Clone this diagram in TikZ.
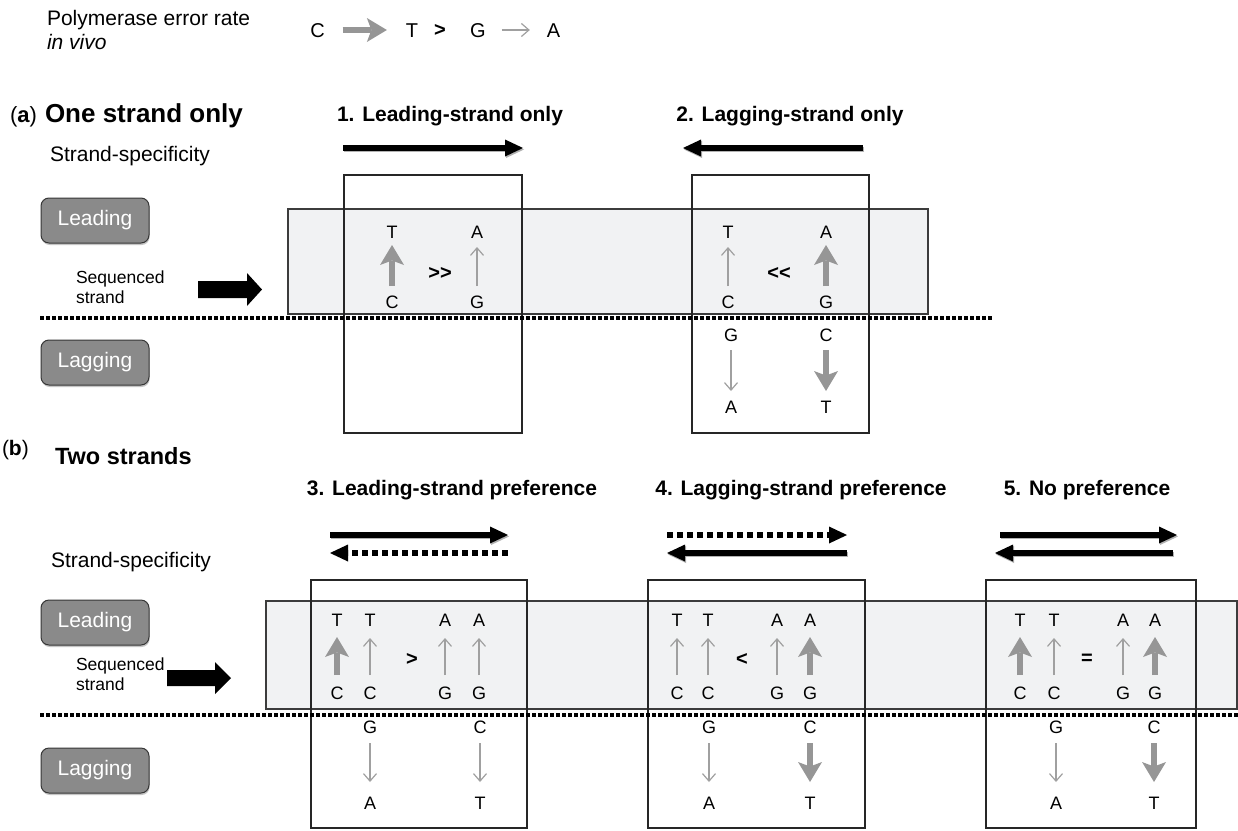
\documentclass[tikz,border=0pt]{standalone}
\usepackage{fontspec}
\setmainfont{Liberation Sans}
\usetikzlibrary{arrows.meta,shadows}
\definecolor{agray}{RGB}{150,150,150}
\definecolor{tgray}{RGB}{160,160,160}
\definecolor{bandfill}{RGB}{241,242,243}
\definecolor{bandline}{RGB}{60,60,60}
\definecolor{keyfill}{RGB}{138,138,138}
\definecolor{keyline}{RGB}{55,55,55}
\tikzset{
  txt/.style={inner sep=0pt, outer sep=0pt},
  let/.style={txt, font=\fontsize{18}{18}\selectfont, text height=13pt, text depth=0pt},
  biglet/.style={txt, font=\fontsize{20}{20}\selectfont, text height=14.3pt, text depth=0pt},
  sym/.style={txt, font=\fontsize{20}{20}\selectfont\bfseries},
  head/.style={txt, font=\fontsize{21}{21}\selectfont\bfseries},
  plain/.style={txt, font=\fontsize{21}{24}\selectfont},
  fat/.style={draw=agray, line width=5.8pt, -{Stealth[length=20pt,width=24pt,inset=4.5pt,line width=0pt]}},
  slim/.style={draw=tgray, line width=1.2pt, -{Straight Barb[length=7.5pt,width=13pt]}},
  blk/.style={draw=black, line width=5.5pt, -{Triangle[length=18pt,width=17pt,line width=0pt]}},
  dotblk/.style={blk, dash pattern=on 6pt off 4pt},
  shad/.style={draw=black!30, line width=5.5pt, -{Triangle[length=18pt,width=17pt,line width=0pt]}, transform canvas={shift={(1pt,-1.5pt)}}},
  sep/.style={draw=black, line width=3.5pt, dash pattern=on 3.5pt off 2.5pt},
  band/.style={fill=bandfill, draw=bandline, line width=1.1pt},
  frame/.style={draw=black!85, line width=1.3pt},
  key/.style={draw=keyline, fill=keyfill, rounded corners=8pt, line width=1pt,
    minimum width=108pt, minimum height=45pt, text=white, inner sep=0pt,
    font=\fontsize{21}{21}\selectfont,
    drop shadow={shadow xshift=0.6pt, shadow yshift=-2pt, fill=black!45, opacity=0.5}},
  seqtxt/.style={txt, font=\fontsize{17.5}{20}\selectfont, align=left},
  upA/.style={shorten <=9.5pt, shorten >=6.5pt},
  upAs/.style={shorten <=9.5pt, shorten >=8.5pt},
  dnA/.style={shorten <=8.5pt, shorten >=9.5pt},
  upB/.style={shorten <=11.5pt, shorten >=10.5pt},
  upBs/.style={shorten <=11.5pt, shorten >=11.5pt},
  dnB/.style={shorten <=9.5pt, shorten >=14.5pt},
}
\begin{document}
\begin{tikzpicture}[x=1pt,y=-1pt]
\useasboundingbox (0,0) rectangle (1238,830);
\fill[white] (0,0) rectangle (1238,830);

% ---------- legend ----------
\node[plain, anchor=base west] (leg1) at (47,25) {Polymerase error rate};
\node[plain, anchor=base west] (leg2) at (47,49) {\itshape in vivo};
\node[biglet] (lc) at (317.5,30) {C};
\node[biglet] (lt) at (412,30) {T};
\node[sym] (lgt) at (440,30) {>};
\node[biglet] (lg) at (478,30) {G};
\node[biglet] (la) at (553.5,30) {A};
\draw[fat, shorten <=18pt, shorten >=19pt] (lc) -- (lt);
\draw[slim, shorten <=16pt, shorten >=17pt] (lg) -- (la);

% ---------- (a) ----------
\node[txt, anchor=base west, font=\fontsize{22}{22}\selectfont] (alab) at (10,122) {(\textbf{a})};
\node[txt, anchor=base west, font=\fontsize{26}{26}\selectfont\bfseries] (atitle) at (45,122) {One strand only};
\node[plain, anchor=base west] (aspec) at (50,161) {Strand-specificity};
\node[head, anchor=base] (h1) at (450,121) {1. Leading-strand only};
\node[head, anchor=base] (h2) at (790,121) {2. Lagging-strand only};
\coordinate (h1s) at (343,148); \coordinate (h1e) at (523,148);
\coordinate (h2s) at (863,148); \coordinate (h2e) at (683,148);
\draw[shad] (h1s) -- (h1e);
\draw[shad] (h2s) -- (h2e);
\draw[blk] (h1s) -- (h1e);
\draw[blk] (h2s) -- (h2e);

\node[key] (alead) at (95,220.5) {Leading};
\node[key] (alag) at (95,362.5) {Lagging};
\node[seqtxt, anchor=base west] (aseq) at (76,303) {Sequenced\\strand};
\fill (198,281) -- (247,281) -- (247,273) -- (262,289.5) -- (247,306) -- (247,298) -- (198,298) -- cycle;

\path[band] (288,209) rectangle (928,314);
\path[frame] (344,175) rectangle (522,433);
\path[frame] (692,175) rectangle (869,433);
\draw[sep] (40,318) -- (993,318);

% box 1
\node[let] (a1t) at (392,232) {T};
\node[let] (a1c) at (392,302) {C};
\node[let] (a1a) at (477,232) {A};
\node[let] (a1g) at (477,302) {G};
\node[sym] (a1s) at (440,273) {>{}>};
\draw[fat, upA] (a1c) -- (a1t);
\draw[slim, upAs] (a1g) -- (a1a);

% box 2
\node[let] (a2t) at (728,232) {T};
\node[let] (a2c) at (728,302) {C};
\node[let] (a2a) at (826,232) {A};
\node[let] (a2g) at (826,302) {G};
\node[sym] (a2s) at (779,273) {<{}<};
\draw[slim, upAs] (a2c) -- (a2t);
\draw[fat, upA] (a2g) -- (a2a);
\node[let] (a2lg) at (731,335) {G};
\node[let] (a2la) at (731,407) {A};
\node[let] (a2lc) at (826,335) {C};
\node[let] (a2lt) at (826,407) {T};
\draw[slim, dnA] (a2lg) -- (a2la);
\draw[fat, dnA] (a2lc) -- (a2lt);

% ---------- (b) ----------
\node[txt, anchor=base west, font=\fontsize{21}{21}\selectfont] (blab) at (2,455) {(\textbf{b})};
\node[txt, anchor=base west, font=\fontsize{23.5}{23.5}\selectfont\bfseries] (btitle) at (55,464) {Two strands};
\node[plain, anchor=base west] (bspec) at (51,567) {Strand-specificity};
\node[head, anchor=base] (h3) at (452,495) {3. Leading-strand preference};
\node[head, anchor=base] (h4) at (801,495) {4. Lagging-strand preference};
\node[head, anchor=base] (h5) at (1087,495) {5. No preference};

\coordinate (p3a) at (330,535); \coordinate (q3a) at (508,535);
\coordinate (p3b) at (508,553); \coordinate (q3b) at (330,553);
\draw[shad] (p3a) -- (q3a);
\draw[blk] (p3a) -- (q3a);
\draw[dotblk] (p3b) -- (q3b);
\coordinate (p4a) at (667,535); \coordinate (q4a) at (847,535);
\coordinate (p4b) at (847,553); \coordinate (q4b) at (667,553);
\draw[dotblk] (p4a) -- (q4a);
\draw[shad] (p4b) -- (q4b);
\draw[blk] (p4b) -- (q4b);
\coordinate (p5a) at (1000,535); \coordinate (q5a) at (1177,535);
\coordinate (p5b) at (1173,553); \coordinate (q5b) at (995,553);
\draw[shad] (p5a) -- (q5a);
\draw[shad] (p5b) -- (q5b);
\draw[blk] (p5a) -- (q5a);
\draw[blk] (p5b) -- (q5b);

\node[key] (blead) at (95,622.5) {Leading};
\node[key] (blag) at (95,770.5) {Lagging};
\node[seqtxt, anchor=base west] (bseq) at (76,690) {Sequenced\\strand};
\fill (167,670) -- (215,670) -- (215,662) -- (231,678) -- (215,694) -- (215,686) -- (167,686) -- cycle;

\path[band] (266,601) rectangle (1237,709);
\path[frame] (311,580) rectangle (527,828);
\path[frame] (648,580) rectangle (865,828);
\path[frame] (986,580) rectangle (1196,828);
\draw[sep] (40,715) -- (1238,715);

% box 3
\node[let] (b3t1) at (337,620) {T};
\node[let] (b3t2) at (370,620) {T};
\node[let] (b3a1) at (445,620) {A};
\node[let] (b3a2) at (479,620) {A};
\node[let] (b3c1) at (337,693) {C};
\node[let] (b3c2) at (370,693) {C};
\node[let] (b3g1) at (445,693) {G};
\node[let] (b3g2) at (479,693) {G};
\node[sym] (b3s) at (412,659) {>};
\draw[fat, upB] (b3c1) -- (b3t1);
\draw[slim, upBs] (b3c2) -- (b3t2);
\draw[slim, upBs] (b3g1) -- (b3a1);
\draw[slim, upBs] (b3g2) -- (b3a2);
\node[let] (b3lg) at (370,727) {G};
\node[let] (b3la) at (370,803) {A};
\node[let] (b3lc) at (480,727) {C};
\node[let] (b3lt) at (480,803) {T};
\draw[slim, dnB] (b3lg) -- (b3la);
\draw[slim, dnB] (b3lc) -- (b3lt);

% box 4
\node[let] (b4t1) at (677,620) {T};
\node[let] (b4t2) at (708,620) {T};
\node[let] (b4a1) at (777,620) {A};
\node[let] (b4a2) at (810,620) {A};
\node[let] (b4c1) at (677,693) {C};
\node[let] (b4c2) at (708,693) {C};
\node[let] (b4g1) at (777,693) {G};
\node[let] (b4g2) at (810,693) {G};
\node[sym] (b4s) at (742,659) {<};
\draw[slim, upBs] (b4c1) -- (b4t1);
\draw[slim, upBs] (b4c2) -- (b4t2);
\draw[slim, upBs] (b4g1) -- (b4a1);
\draw[fat, upB] (b4g2) -- (b4a2);
\node[let] (b4lg) at (709,727) {G};
\node[let] (b4la) at (709,803) {A};
\node[let] (b4lc) at (810,727) {C};
\node[let] (b4lt) at (810,803) {T};
\draw[slim, dnB] (b4lg) -- (b4la);
\draw[fat, dnB] (b4lc) -- (b4lt);

% box 5
\node[let] (b5t1) at (1020,620) {T};
\node[let] (b5t2) at (1054,620) {T};
\node[let] (b5a1) at (1123,620) {A};
\node[let] (b5a2) at (1155,620) {A};
\node[let] (b5c1) at (1020,693) {C};
\node[let] (b5c2) at (1054,693) {C};
\node[let] (b5g1) at (1123,693) {G};
\node[let] (b5g2) at (1155,693) {G};
\node[sym] (b5s) at (1087,659) {=};
\draw[fat, upB] (b5c1) -- (b5t1);
\draw[slim, upBs] (b5c2) -- (b5t2);
\draw[slim, upBs] (b5g1) -- (b5a1);
\draw[fat, upB] (b5g2) -- (b5a2);
\node[let] (b5lg) at (1056,727) {G};
\node[let] (b5la) at (1056,803) {A};
\node[let] (b5lc) at (1154,727) {C};
\node[let] (b5lt) at (1154,803) {T};
\draw[slim, dnB] (b5lg) -- (b5la);
\draw[fat, dnB] (b5lc) -- (b5lt);
\end{tikzpicture}
\end{document}
